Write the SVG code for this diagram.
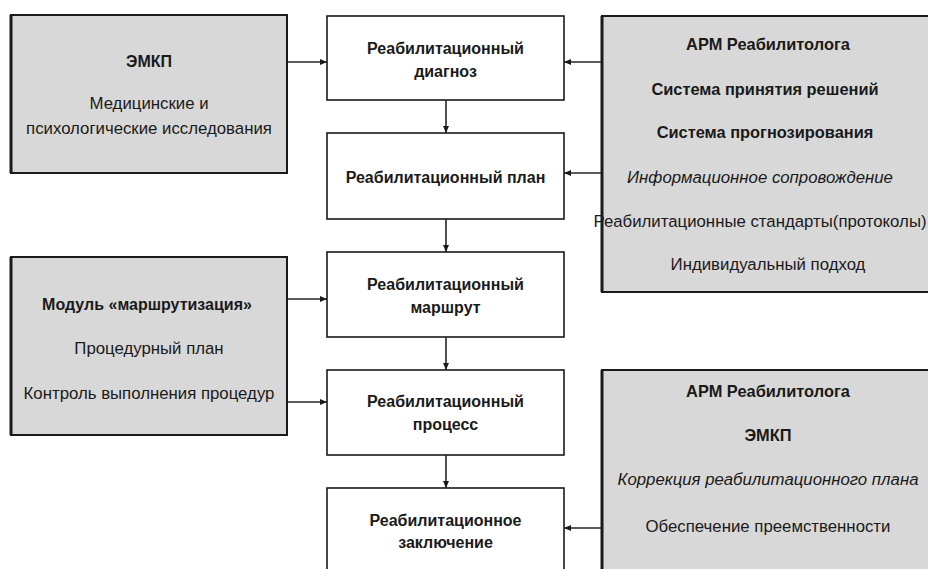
<svg xmlns="http://www.w3.org/2000/svg" width="928" height="569" viewBox="0 0 928 569">
  <style>
    .gray { fill: #d8d8d8; stroke: #1a1a1a; stroke-width: 2; }
    .white { fill: #ffffff; stroke: #1a1a1a; stroke-width: 1.6; }
    .edge { fill: none; stroke: #1a1a1a; stroke-width: 3; }
    text { font-family: "Liberation Sans", Arial, sans-serif; font-size: 16.8px; fill: #1a1a1a; text-anchor: middle; }
    .b { font-weight: bold; font-size: 16px; }
    .bw { font-weight: bold; font-size: 16.4px; }
    .i { font-style: italic; }
    .link { fill: none; stroke: #262626; stroke-width: 1.6; marker-end: url(#arrow); }
  </style>
  <defs>
    <marker id="arrow" markerUnits="userSpaceOnUse" markerWidth="8" markerHeight="8" viewBox="0 0 8 8" refX="7" refY="4" orient="auto">
      <path d="M0,1 L7,4 L0,7 Z" fill="#1a1a1a"/>
    </marker>
  </defs>

  <rect width="928" height="569" fill="#ffffff"/>

  <!-- source boxes on the left -->
  <g id="emkp-research">
    <rect class="gray" x="11" y="15" width="276" height="158"/>
    <line class="edge" x1="11" y1="15" x2="11" y2="173"/>
    <text class="b" x="149" y="67">ЭМКП</text>
    <text x="149" y="109">Медицинские и</text>
    <text x="149" y="134">психологические исследования</text>
  </g>

  <g id="routing-module">
    <rect class="gray" x="11" y="257" width="276" height="178"/>
    <line class="edge" x1="11" y1="257" x2="11" y2="435"/>
    <text class="b" x="147" y="310">Модуль «маршрутизация»</text>
    <text x="149" y="354">Процедурный план</text>
    <text x="149" y="399">Контроль выполнения процедур</text>
  </g>

  <!-- rehabilitation chain in the middle -->
  <g id="diagnosis">
    <rect class="white" x="327" y="16" width="237" height="84"/>
    <text class="b" x="445.5" y="54">Реабилитационный</text>
    <text class="b" x="445.5" y="77">диагноз</text>
  </g>

  <g id="plan">
    <rect class="white" x="327" y="133" width="237" height="86"/>
    <text class="b" x="445.5" y="183">Реабилитационный план</text>
  </g>

  <g id="route">
    <rect class="white" x="327" y="252" width="237" height="85"/>
    <text class="b" x="445.5" y="290">Реабилитационный</text>
    <text class="b" x="445.5" y="313">маршрут</text>
  </g>

  <g id="process">
    <rect class="white" x="327" y="370" width="237" height="85"/>
    <text class="b" x="445.5" y="407">Реабилитационный</text>
    <text class="b" x="445.5" y="430">процесс</text>
  </g>

  <g id="conclusion">
    <rect class="white" x="327" y="488" width="237" height="90"/>
    <text class="b" x="445.5" y="526">Реабилитационное</text>
    <text class="b" x="445.5" y="548">заключение</text>
  </g>

  <!-- support boxes on the right -->
  <g id="arm-decisions">
    <rect class="gray" x="602" y="16" width="332" height="276"/>
    <line class="edge" x1="602" y1="16" x2="602" y2="292"/>
    <text class="bw" x="768" y="50">АРМ Реабилитолога</text>
    <text class="bw" x="765" y="95">Система принятия решений</text>
    <text class="bw" x="765" y="138">Система прогнозирования</text>
    <text class="i" x="760" y="183">Информационное сопровождение</text>
    <text x="760" y="227">Реабилитационные стандарты(протоколы)</text>
    <text x="768" y="270">Индивидуальный подход</text>
  </g>

  <g id="arm-correction">
    <rect class="gray" x="602" y="370" width="332" height="210"/>
    <line class="edge" x1="602" y1="370" x2="602" y2="580"/>
    <text class="bw" x="768" y="397">АРМ Реабилитолога</text>
    <text class="bw" x="768" y="441">ЭМКП</text>
    <text class="i" x="768" y="485">Коррекция реабилитационного плана</text>
    <text x="768" y="532">Обеспечение преемственности</text>
  </g>

  <!-- connectors -->
  <g id="connectors">
    <line class="link" x1="288" y1="62" x2="327" y2="62"/>
    <line class="link" x1="601" y1="62" x2="564" y2="62"/>
    <line class="link" x1="601" y1="173" x2="564" y2="173"/>
    <line class="link" x1="446" y1="100" x2="446" y2="133"/>
    <line class="link" x1="446" y1="219" x2="446" y2="252"/>
    <line class="link" x1="288" y1="299" x2="327" y2="299"/>
    <line class="link" x1="288" y1="402" x2="327" y2="402"/>
    <line class="link" x1="446" y1="337" x2="446" y2="370"/>
    <line class="link" x1="446" y1="455" x2="446" y2="488"/>
    <line class="link" x1="601" y1="528" x2="564" y2="528"/>
  </g>
</svg>
